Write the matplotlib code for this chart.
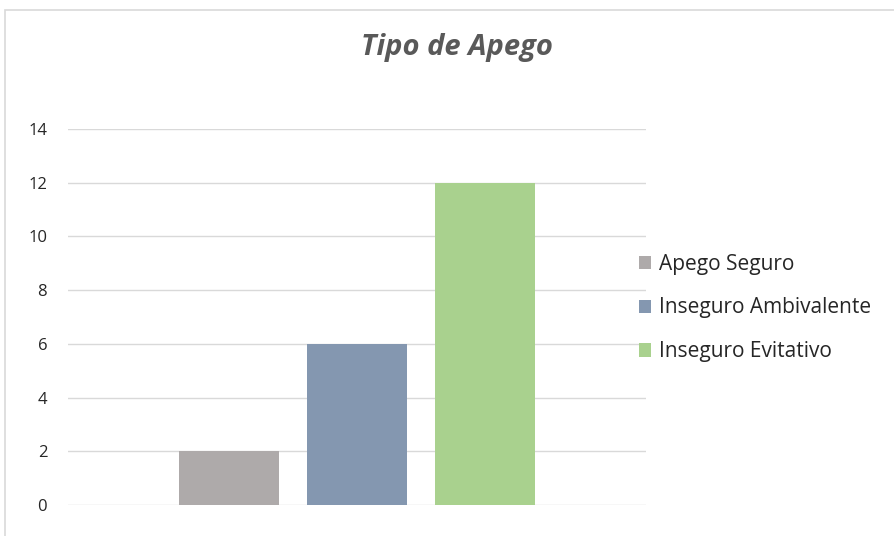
import matplotlib
matplotlib.use("Agg")
import matplotlib.pyplot as plt
from matplotlib.patches import Rectangle

series = ["Apego Seguro", "Inseguro Ambivalente", "Inseguro Evitativo"]
values = [2, 6, 12]
colors = ["#aeaaaa", "#8497b0", "#a9d18e"]
yticks = [0, 2, 4, 6, 8, 10, 12, 14]

plt.rcParams['font.family'] = ['Open Sans', 'DejaVu Sans']

fig = plt.figure(figsize=(8.94, 5.36), dpi=100)
ax = fig.add_axes([0.0761, 0.0578, 0.6465, 0.7015])

# chart border (Excel style)
fig.patches.append(Rectangle((5 / 894, -0.1), 1.0, 1 - 10 / 536 + 0.1,
                             transform=fig.transFigure, fill=False,
                             edgecolor="#d9d9d9", linewidth=1.2))

xs = [-1, 0, 1]
for x, v, c, s in zip(xs, values, colors, series):
    ax.bar(x, v, width=0.78, color=c, label=s, zorder=3)

ax.set_xlim(-2.26, 2.26)
ax.set_ylim(0, 14)
ax.set_yticks(yticks)
ax.set_xticks([])
ax.grid(axis="y", color="#d9d9d9", linewidth=1, zorder=0)
for sp in ax.spines.values():
    sp.set_visible(False)
ax.tick_params(axis="y", length=0, pad=15, labelsize=12, labelcolor="#262626")

fig.text(0.511, 0.912, "Tipo de Apego", ha="center", va="center",
         fontsize=21, fontweight="bold", fontstyle="italic", color="#595959")

leg = ax.legend(loc="center left", bbox_to_anchor=(0.955, 0.524), frameon=False,
                handlelength=0.6, handleheight=0.6, handletextpad=0.35,
                labelspacing=1.1, fontsize=15)
for t in leg.get_texts():
    t.set_color("#262626")

fig.savefig("out.png", dpi=100, facecolor="white")
